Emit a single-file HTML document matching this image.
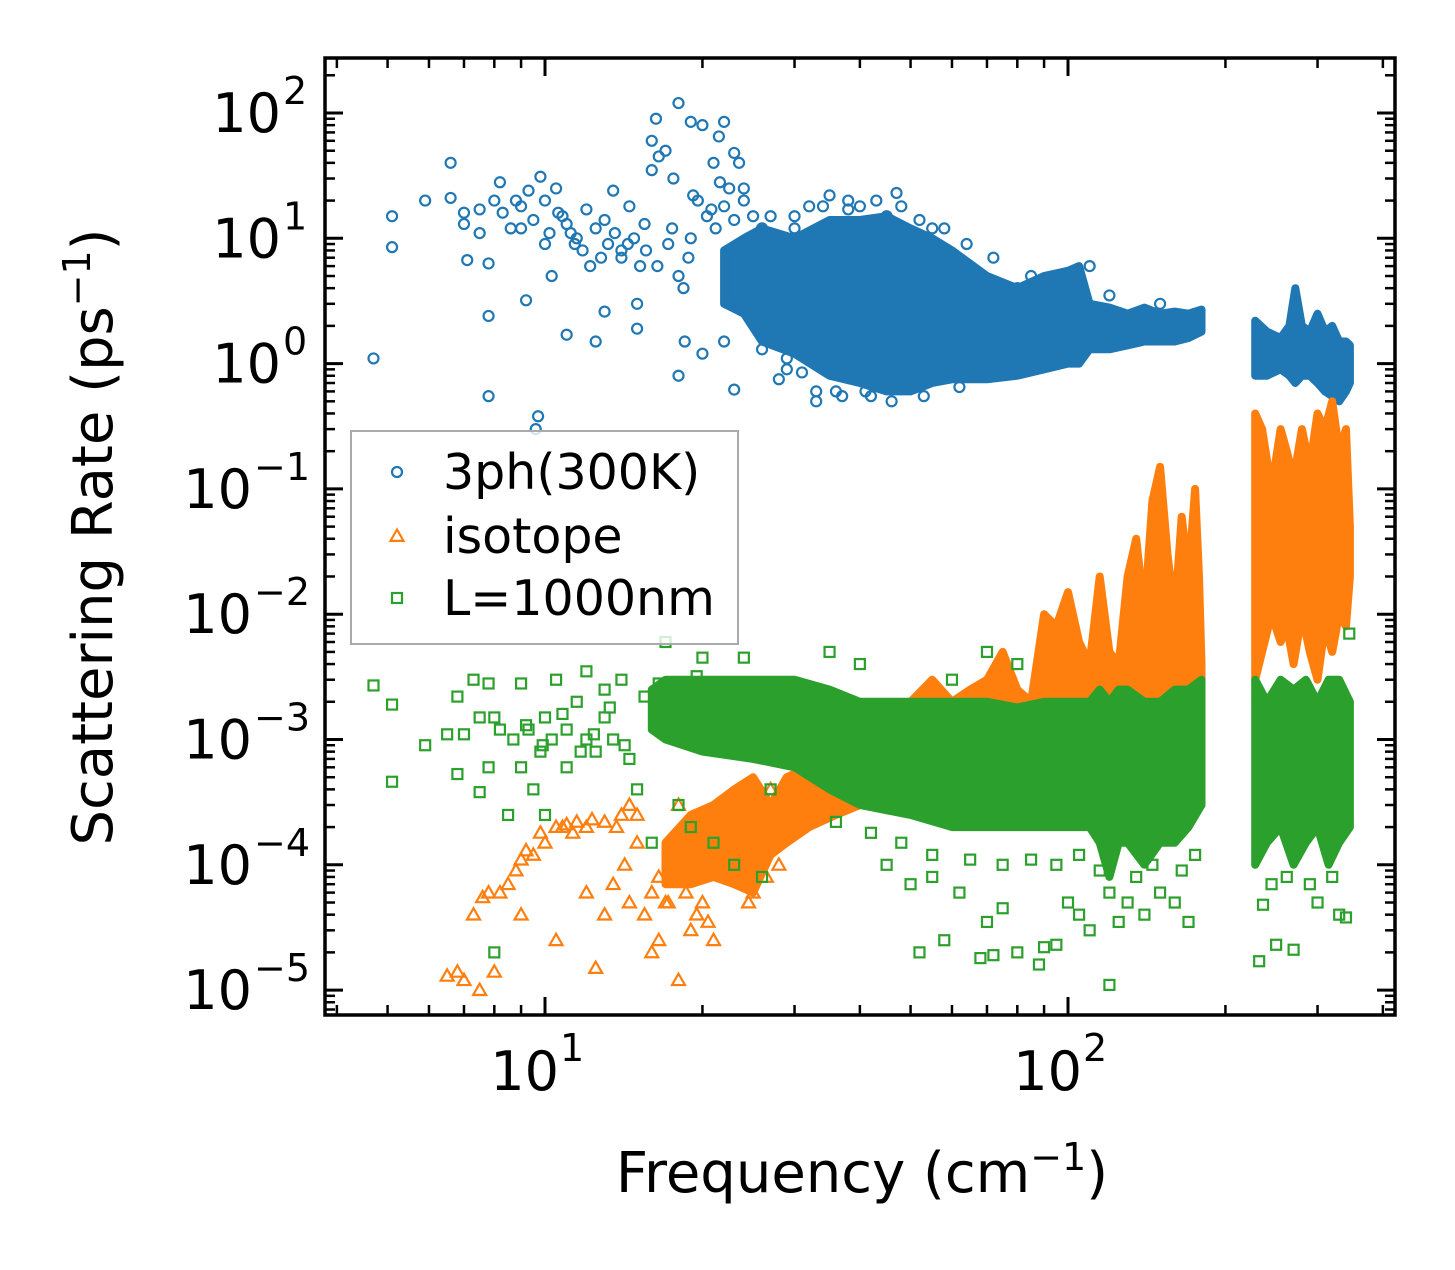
<!DOCTYPE html>
<html><head><meta charset="utf-8">
<style>
html,body{margin:0;padding:0;background:#fff;}
svg text{font-family:"DejaVu Sans","Liberation Sans",sans-serif;}
</style></head>
<body>
<svg id="chart" width="1455" height="1265" viewBox="0 0 1455 1265" xmlns="http://www.w3.org/2000/svg">
<rect x="0" y="0" width="1455" height="1265" fill="#fff"/>
<g id="marks"></g>
<g id="axes"></g>
<g id="legend"></g>
</svg>
<script>
// ---- data (frequency cm^-1, rate ps^-1) ----
const xTickValues = [10, 100];
const xTickLabels = ["1", "2"];
const yTickValues = [1e2, 1e1, 1e0, 1e-1, 1e-2, 1e-3, 1e-4, 1e-5];
const yTickLabels = ["2", "1", "0", "\u22121", "\u22122", "\u22123", "\u22124", "\u22125"];

// 3ph(300K) dense core envelopes
const phBandX = [22,24,26,30,35,40,45,50,55,60,70,80,90,100,105,110,120,130,140,150,160,170,180];
const phBandHi = [8,10,12,10,14,14,15,12,10,8,5,4,5,5.5,6,3,2.8,2.5,2.8,2.5,2.6,2.5,2.7];
const phBandLo = [3,2.5,1.5,1.2,0.8,0.7,0.6,0.6,0.7,0.75,0.75,0.8,0.9,1,1,1.3,1.3,1.4,1.5,1.5,1.5,1.6,1.8];
const phBand2X = [228,240,255,265,272,280,290,300,310,320,330,340,346];
const phBand2Hi = [2.2,1.8,1.6,2,4,2,1.8,2.5,1.8,2,1.5,1.5,1.4];
const phBand2Lo = [0.8,0.8,0.9,0.8,0.7,0.8,0.8,0.7,0.6,0.55,0.5,0.6,0.7];
const phX = [4.7,5.1,5.1,5.9,6.6,6.6,7,7,7.1,7.5,7.5,7.8,7.8,7.8,8,8.2,8.3,8.6,8.8,9,9.2,9.3,9.6,9.7,9.8,10,10,10.3,10.5,10.8,11,11.2,11.5,12,12.2,12.5,13,13,13.5,14,14.5,15,15,15.5,16,16.3,16.5,17,17.5,18,18,18.5,19,19,20,20,21,21.5,22,22,23,23,24,25,26,27,28,29,30,32,33,35,36,38,40,42,45,47,50,55,60,65,80,110,
 9.5,10.2,11,11.8,12.5,13.2,14,14.8,15.6,16.4,17.2,18,18.8,19.6,20.4,21.2,22,23,24,25,9,10.6,12.8,14.4,16,17.6,19.2,20.8,22.5,24.5,26,27,11.4,13.6,15.2,18.4,21.6,23.5,
 30,34,38,43,48,52,58,64,72,85,95,120,150,33,37,41,46,53,62,26,29,31];
const phY = [1.1,15,8.5,20,40,21,16,13,6.7,17,11,2.4,0.55,6.3,20,28,16,12,20,12,3.2,24,0.3,0.38,31,20,9,5,25,15,1.7,11,10,17,6,1.5,14,2.6,24,8,18,1.9,3,13,60,90,45,50,12,120,0.8,1.5,85,10,80,1.2,40,65,85,1.5,48,0.62,25,15,12,9,0.75,1.1,12,18,0.5,22,0.6,20,18,0.55,15,23,10,12,7,5,4,6,
 14,11,13,8,12,9,7,10,8,6,9,5,7,20,15,12,18,14,20,8,18,16,7,9,35,30,22,17,25,10,6,15,9,11,6,4,28,40,
 15,18,17,20,18,14,12,9,7,5,4.5,3.5,3,0.6,0.55,0.6,0.5,0.55,0.65,1.3,0.9,0.85];

// isotope
const isoBandX = [17,19,21,23,25,27,29,32,36,40,45,50,55,60,65,70,75,80,85,90,95,100,105,110,115,120,125,130,135,140,145,150,155,160,165,170,175,178,180];
const isoBandHi = [1.5e-4,2.5e-4,3e-4,4e-4,5e-4,3e-4,5e-4,6e-4,8e-4,1e-3,1.5e-3,2e-3,3e-3,2e-3,2.5e-3,3e-3,5e-3,2.5e-3,2e-3,1e-2,8e-3,1.5e-2,6e-3,4e-3,2e-2,5e-3,4e-3,2e-2,4e-2,1e-2,8e-2,0.15,3e-2,1e-2,6e-2,2e-2,0.1,2e-2,4e-3];
const isoBandLo = [7e-5,7e-5,8e-5,7e-5,6e-5,1.2e-4,1.5e-4,2e-4,2.5e-4,3e-4,3e-4,3e-4,3e-4,3e-4,3e-4,3e-4,3e-4,3e-4,3e-4,3e-4,3e-4,3e-4,3e-4,3e-4,3e-4,3e-4,3e-4,3e-4,3e-4,3e-4,3e-4,3e-4,3e-4,3e-4,3e-4,3e-4,3e-4,3e-4,3e-4];
const isoBand2X = [228,235,245,255,262,270,280,290,300,310,320,330,340,346];
const isoBand2Hi = [0.4,0.3,0.1,0.3,0.2,0.12,0.3,0.15,0.4,0.3,0.5,0.2,0.3,0.05];
const isoBand2Lo = [3e-3,5e-3,1e-2,6e-3,8e-3,4e-3,1e-2,5e-3,3e-3,8e-3,5e-3,1e-2,8e-3,2e-2];
const isoX = [6.5,6.8,7,7.5,7.3,7.6,7.8,8,8.2,8.5,8.8,9,9,9.5,10,10.5,10.5,11,11.5,12,12,12.5,13,13,13.5,14,14.5,14.5,15,15,15.5,16,16,16.5,17,17.5,18,18,19,20,20,21,21,22,23,24,25,26,27,28,30,32,
 9.2,9.8,10.8,11.3,12.3,13.7,14.2,16.5,17.2,18.6,19.5,20.5,22.5,24.5,26.5];
const isoY = [1.3e-5,1.4e-5,1.2e-5,1e-5,4e-5,5.5e-5,6e-5,1.4e-5,6e-5,7e-5,9e-5,1.1e-4,4e-5,1.2e-4,1.5e-4,2e-4,2.5e-5,2.1e-4,2.2e-4,2e-4,6e-5,1.5e-5,2.2e-4,4e-5,7e-5,2.5e-4,3e-4,5e-5,2.5e-4,1.5e-4,4e-5,6e-5,2e-5,2.5e-5,5e-5,1.5e-4,1.2e-5,3e-4,3e-5,2e-4,5e-5,1.5e-4,2.5e-5,2.2e-4,3.5e-4,2e-4,6e-5,2.5e-4,4e-4,1e-4,3e-4,5e-4,
 1.3e-4,1.8e-4,2e-4,1.8e-4,2.3e-4,2e-4,1e-4,8e-5,5e-5,6e-5,4e-5,3.5e-5,1.2e-4,5e-5,8e-5];

// L=1000nm
const bdBandX = [16,17,20,25,30,35,40,50,60,70,80,90,100,110,115,120,125,130,140,150,160,170,180];
const bdBandHi = [2.5e-3,3e-3,3e-3,3e-3,3e-3,2.5e-3,2e-3,2e-3,2e-3,2e-3,1.8e-3,2e-3,2e-3,2e-3,2.5e-3,2e-3,2.5e-3,2.5e-3,2e-3,2e-3,2.5e-3,2.5e-3,3e-3];
const bdBandLo = [1.2e-3,1e-3,8e-4,7e-4,6e-4,4e-4,3e-4,2.5e-4,2e-4,2e-4,2e-4,2e-4,2e-4,2e-4,1.5e-4,8e-5,1.5e-4,1.5e-4,1e-4,1.5e-4,1.5e-4,2e-4,3e-4];
const bdBand2X = [228,240,255,270,285,300,315,330,346];
const bdBand2Hi = [3e-3,2e-3,3e-3,2.5e-3,3e-3,2e-3,3e-3,3e-3,2e-3];
const bdBand2Lo = [1e-4,1.5e-4,2e-4,1e-4,1.5e-4,2e-4,1e-4,1.5e-4,2e-4];
const bdX = [4.7,5.1,5.1,5.9,6.5,6.8,6.8,7,7.3,7.5,7.5,7.8,7.8,8,8,8.2,8.5,8.7,9,9,9.3,9.5,9.8,10,10,10.3,10.5,11,11,11.5,12,12,12.5,13,13,13.5,14,14.5,15,16,17,18,19,20,21,23,24,26,27,45,50,52,55,58,62,68,70,72,75,80,88,90,95,100,105,110,120,120,125,130,140,150,160,170,232,236,250,270,300,330,340,345,35,40,60,70,80,
 9.2,9.9,10.8,11.7,12.4,13.3,14.2,15.5,16.5,17.5,18.5,19.5,
 36,42,48,55,65,75,85,95,105,115,135,145,165,175,245,262,290,320];
const bdY = [2.7e-3,1.9e-3,4.6e-4,9e-4,1.1e-3,5.3e-4,2.2e-3,1.1e-3,3e-3,1.5e-3,3.8e-4,6e-4,2.8e-3,2e-5,1.5e-3,1.2e-3,2.5e-4,1e-3,2.8e-3,6e-4,1.2e-3,4e-4,8e-4,1.5e-3,2.5e-4,1e-3,3e-3,1.2e-3,6e-4,2e-3,1e-3,3.5e-3,8e-4,1.5e-3,2.5e-3,1e-3,3e-3,7e-4,4e-4,1.5e-4,6e-3,3e-4,2e-4,4.5e-3,1.5e-4,1e-4,4.5e-3,8e-5,4e-4,1e-4,7e-5,2e-5,8e-5,2.5e-5,6e-5,1.8e-5,3.5e-5,1.9e-5,4.5e-5,2e-5,1.6e-5,2.2e-5,2.3e-5,5e-5,4e-5,3e-5,1.1e-5,6e-5,3.5e-5,5e-5,4e-5,6e-5,5e-5,3.5e-5,1.7e-5,4.8e-5,2.3e-5,2.1e-5,5e-5,4e-5,3.8e-5,7e-3,5e-3,4e-3,3e-3,5e-3,4e-3,
 1.3e-3,9e-4,1.6e-3,8e-4,1.1e-3,1.8e-3,9e-4,2.2e-3,2.8e-3,1.9e-3,2.4e-3,3.2e-3,
 2.2e-4,1.8e-4,1.5e-4,1.2e-4,1.1e-4,1e-4,1.1e-4,1e-4,1.2e-4,9e-5,8e-5,1e-4,9e-5,1.2e-4,7e-5,8e-5,7e-5,8e-5];

// ---- axes ----
const L=325, R=1395, T=58, B=1015;
const X10=545, XDEC=523, Y2=113, YDEC=125.3;
function sx(v){ return X10 + (Math.log10(v)-1)*XDEC; }
function sy(v){ return Y2 - (Math.log10(v)-2)*YDEC; }
const NS="http://www.w3.org/2000/svg";
function mk(tag, attrs, parent){ const e=document.createElementNS(NS,tag); for(const k in attrs) e.setAttribute(k, attrs[k]); parent.appendChild(e); return e; }

const marks=document.getElementById('marks');
const clip=mk('clipPath',{id:'pc'},marks); mk('rect',{x:L,y:T,width:R-L,height:B-T},clip);
const C={ph:'#1f77b4', iso:'#ff7f0e', bd:'#2ca02c'};

function band(xs, hi, lo, color, name){
  let pts=[];
  for(let i=0;i<xs.length;i++) pts.push(sx(xs[i]).toFixed(1)+','+sy(hi[i]).toFixed(1));
  for(let i=xs.length-1;i>=0;i--) pts.push(sx(xs[i]).toFixed(1)+','+sy(lo[i]).toFixed(1));
  const p=mk('polygon',{points:pts.join(' '),fill:color,stroke:color,'stroke-width':8,'stroke-linejoin':'round','clip-path':'url(#pc)'},marks);
  
  
}
function circle(x,y,g){ return mk('circle',{cx:x,cy:y,r:5,fill:'none',stroke:C.ph,'stroke-width':2.2},g); }
function tri(x,y,g){ const s=6.5; return mk('polygon',{points:`${x},${y-s} ${x-s},${y+s*0.75} ${x+s},${y+s*0.75}`,fill:'none',stroke:C.iso,'stroke-width':2.2},g); }
function sq(x,y,g){ return mk('rect',{x:x-5,y:y-5,width:10,height:10,fill:'none',stroke:C.bd,'stroke-width':2.2},g); }

const gPh=mk('g',{'clip-path':'url(#pc)'},marks);


band(phBandX,phBandHi,phBandLo,C.ph,'3ph-dense-cloud');
band(phBand2X,phBand2Hi,phBand2Lo,C.ph,'3ph-high-freq-cloud');
for(let i=0;i<phX.length;i++){ const e=circle(sx(phX[i]),sy(phY[i]),gPh);
  
   }
const gIso=mk('g',{'clip-path':'url(#pc)'},marks);


band(isoBandX,isoBandHi,isoBandLo,C.iso,'isotope-dense-cloud');
band(isoBand2X,isoBand2Hi,isoBand2Lo,C.iso,'isotope-high-freq-cloud');
for(let i=0;i<isoX.length;i++){ const e=tri(sx(isoX[i]),sy(isoY[i]),gIso);
  
   }
const gBd=mk('g',{'clip-path':'url(#pc)'},marks);


band(bdBandX,bdBandHi,bdBandLo,C.bd,'boundary-dense-cloud');
band(bdBand2X,bdBand2Hi,bdBand2Lo,C.bd,'boundary-high-freq-cloud');
for(let i=0;i<bdX.length;i++){ const e=sq(sx(bdX[i]),sy(bdY[i]),gBd);
  
   }

const axes=document.getElementById('axes');
const frame=mk('rect',{x:L,y:T,width:R-L,height:B-T,fill:'none',stroke:'#000','stroke-width':3.5},axes);


function tick(x1,y1,x2,y2,w){ mk('line',{x1,y1,x2,y2,stroke:'#000','stroke-width':w},axes); }
for(let d=0; d<=3; d++){
  for(let m=1;m<=9;m++){
    const v=m*Math.pow(10,d); const x=sx(v);
    if(x<L+1||x>R-1) continue;
    const len = m===1?18:10, w = m===1?3:2.5;
    tick(x,B,x,B-len,w); tick(x,T,x,T+len,w);
  }
}
for(let e=-6;e<=2;e++){
  for(let m=1;m<=9;m++){
    const v=m*Math.pow(10,e); const y=sy(v);
    if(y<T+1||y>B-1) continue;
    const len = m===1?18:10, w = m===1?3:2.5;
    tick(L,y,L+len,y,w); tick(R,y,R-len,y,w);
  }
}
xTickValues.forEach((v,i)=>{
  const t=mk('text',{x:sx(v)+14,y:1090,'font-size':54,'text-anchor':'end',fill:'#000'},axes);
  t.textContent='10';
  
  
  const s=mk('text',{x:sx(v)+15,y:1061,'font-size':38,fill:'#000'},axes);
  s.textContent=xTickLabels[i];
});
yTickValues.forEach((v,i)=>{
  const lab=yTickLabels[i];
  const supW = lab.length>1 ? 53 : 24;
  const t=mk('text',{x:L-20-supW,y:sy(v)+19,'font-size':54,'text-anchor':'end',fill:'#000'},axes);
  t.textContent='10';
  
  
  mk('text',{x:L-18-supW,y:sy(v)-9,'font-size':38,fill:'#000'},axes).textContent=lab;
});
const xl=mk('text',{x:862,y:1192,'font-size':56,'text-anchor':'middle',fill:'#000'},axes);
xl.innerHTML='Frequency (cm<tspan dy="-22" font-size="38">\u22121</tspan><tspan dy="22">)</tspan>';


const yl=mk('text',{x:0,y:0,'font-size':56,'text-anchor':'middle',fill:'#000',transform:'translate(112,537) rotate(-90)'},axes);
yl.innerHTML='Scattering Rate (ps<tspan dy="-22" font-size="38">\u22121</tspan><tspan dy="22">)</tspan>';



const lg=document.getElementById('legend');
const box=mk('rect',{x:351,y:431,width:387,height:213,fill:'#fff','fill-opacity':0.8,stroke:'#aaa','stroke-width':2},lg);


const names=['3ph(300K)','isotope','L=1000nm'];
const ys=[472,536,598];
names.forEach((n,i)=>{
  let m;
  if(i===0) m=circle(397,ys[i],lg); else if(i===1) m=tri(397,ys[i],lg); else m=sq(397,ys[i],lg);
  
  
  const t=mk('text',{x:443,y:ys[i]+17,'font-size':49,fill:'#000'},lg);
  t.textContent=n;
  
  
});
</script>
</body></html>
